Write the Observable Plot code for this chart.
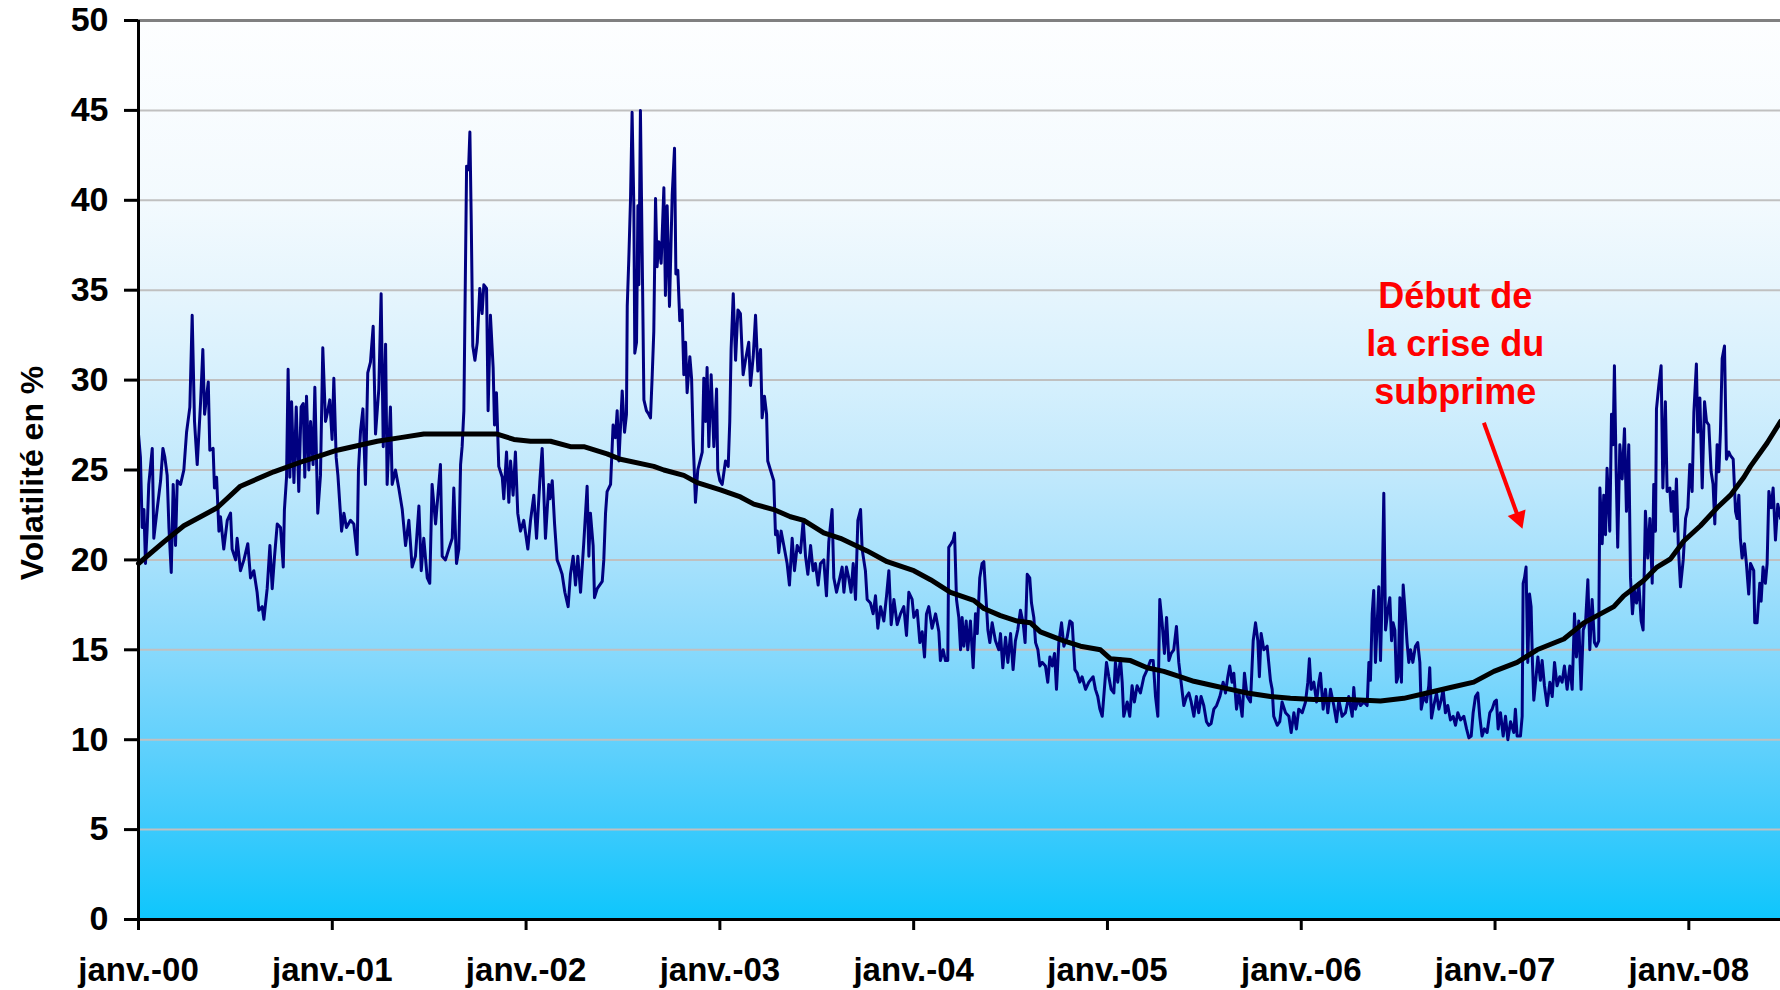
<!DOCTYPE html>
<html lang="fr">
<head>
<meta charset="utf-8">
<script src="https://cdn.jsdelivr.net/npm/d3@7"></script>
<script src="https://cdn.jsdelivr.net/npm/@observablehq/plot@0.6"></script>
<style>
  html, body { margin: 0; padding: 0; background: #ffffff; }
  #chart { width: 1780px; height: 990px; overflow: hidden; }
</style>
</head>
<body>
<div id="chart"></div>
<script>
// ---- Data (decimal year, volatility in %) ----
const volatility = [
[2000.000,27.0],[2000.010,25.7],[2000.019,21.8],[2000.028,22.8],[2000.036,19.8],[2000.045,21.8],[2000.053,24.2],[2000.071,26.2],[2000.079,21.2],[2000.096,22.8],[2000.114,24.4],[2000.126,26.2],[2000.136,25.7],[2000.148,24.7],[2000.157,21.8],[2000.169,19.3],[2000.179,24.2],[2000.191,20.8],[2000.200,24.4],[2000.217,24.2],[2000.234,25.0],[2000.248,27.1],[2000.265,28.5],[2000.277,33.6],[2000.289,27.7],[2000.303,25.3],[2000.320,28.7],[2000.332,31.7],[2000.341,28.1],[2000.360,29.9],[2000.368,26.1],[2000.385,26.2],[2000.392,24.0],[2000.403,24.6],[2000.415,21.6],[2000.423,22.4],[2000.440,20.6],[2000.458,22.2],[2000.475,22.6],[2000.483,20.6],[2000.501,20.0],[2000.509,21.2],[2000.526,19.4],[2000.544,20.0],[2000.564,20.9],[2000.578,19.0],[2000.595,19.4],[2000.612,18.2],[2000.621,17.2],[2000.638,17.4],[2000.647,16.7],[2000.664,18.4],[2000.678,20.8],[2000.690,18.4],[2000.702,20.2],[2000.716,22.0],[2000.733,21.8],[2000.747,19.6],[2000.753,22.8],[2000.764,24.6],[2000.772,30.6],[2000.781,24.6],[2000.790,28.8],[2000.802,24.3],[2000.814,28.5],[2000.827,23.8],[2000.839,28.5],[2000.850,28.7],[2000.858,24.6],[2000.867,29.1],[2000.879,25.0],[2000.888,27.7],[2000.901,25.3],[2000.910,29.6],[2000.925,22.6],[2000.939,24.7],[2000.951,31.8],[2000.965,27.7],[2000.977,28.3],[2000.987,28.9],[2000.999,26.7],
[2001.008,30.1],[2001.020,25.7],[2001.029,24.7],[2001.048,21.6],[2001.060,22.6],[2001.073,21.8],[2001.094,22.2],[2001.111,22.0],[2001.128,20.3],[2001.135,25.0],[2001.146,27.2],[2001.158,28.4],[2001.171,24.2],[2001.183,30.4],[2001.197,31.0],[2001.211,33.0],[2001.223,27.0],[2001.240,29.5],[2001.252,34.8],[2001.263,26.3],[2001.275,32.0],[2001.283,24.2],[2001.300,28.5],[2001.309,24.2],[2001.326,25.0],[2001.343,24.0],[2001.361,22.8],[2001.378,20.8],[2001.395,22.2],[2001.412,19.6],[2001.429,20.2],[2001.447,23.0],[2001.459,19.4],[2001.472,21.2],[2001.490,19.0],[2001.503,18.7],[2001.515,24.2],[2001.533,22.0],[2001.558,25.3],[2001.567,20.2],[2001.584,20.0],[2001.601,20.6],[2001.619,21.2],[2001.627,24.0],[2001.641,19.8],[2001.653,20.6],[2001.662,25.3],[2001.670,26.3],[2001.679,28.3],[2001.693,41.9],[2001.703,41.7],[2001.710,43.8],[2001.717,38.9],[2001.725,31.9],[2001.736,31.1],[2001.748,32.1],[2001.761,35.1],[2001.773,33.7],[2001.782,35.3],[2001.796,35.1],[2001.804,28.3],[2001.816,33.6],[2001.830,30.7],[2001.837,27.5],[2001.847,29.3],[2001.859,25.2],[2001.877,24.6],[2001.885,23.4],[2001.899,26.0],[2001.911,23.2],[2001.920,25.5],[2001.933,23.6],[2001.945,26.0],[2001.957,22.6],[2001.971,21.6],[2001.988,22.2],
[2002.009,20.6],[2002.023,22.2],[2002.040,23.6],[2002.054,21.2],[2002.071,24.4],[2002.083,26.2],[2002.100,21.2],[2002.117,24.2],[2002.123,23.4],[2002.135,24.4],[2002.147,22.0],[2002.160,20.0],[2002.174,19.6],[2002.186,19.2],[2002.200,18.2],[2002.217,17.4],[2002.229,19.2],[2002.243,20.2],[2002.255,18.6],[2002.267,20.2],[2002.281,18.2],[2002.298,21.0],[2002.315,24.1],[2002.324,20.2],[2002.332,22.6],[2002.346,20.8],[2002.353,17.9],[2002.367,18.4],[2002.393,18.8],[2002.401,20.0],[2002.410,22.6],[2002.418,23.8],[2002.436,24.2],[2002.449,27.5],[2002.461,26.8],[2002.470,28.3],[2002.479,25.5],[2002.496,29.4],[2002.508,27.1],[2002.518,28.1],[2002.522,34.1],[2002.530,36.7],[2002.539,40.1],[2002.547,44.9],[2002.556,39.7],[2002.561,31.5],[2002.570,32.1],[2002.577,39.7],[2002.582,35.3],[2002.590,45.0],[2002.599,37.1],[2002.608,28.9],[2002.621,28.3],[2002.633,28.1],[2002.642,27.9],[2002.651,30.3],[2002.659,32.7],[2002.668,40.1],[2002.676,36.3],[2002.685,37.7],[2002.697,36.5],[2002.711,40.7],[2002.719,34.7],[2002.728,39.7],[2002.740,34.1],[2002.754,40.3],[2002.766,42.9],[2002.773,35.9],[2002.783,36.1],[2002.793,33.3],[2002.805,33.9],[2002.814,30.3],[2002.823,32.1],[2002.831,29.3],[2002.845,31.3],[2002.854,30.1],[2002.862,26.7],[2002.874,23.2],[2002.886,25.0],[2002.909,26.0],[2002.917,30.1],[2002.926,27.7],[2002.934,30.7],[2002.943,26.3],[2002.955,30.3],[2002.969,26.3],[2002.983,29.5],[2002.989,25.0],
[2003.000,24.4],[2003.012,24.2],[2003.029,25.5],[2003.043,25.2],[2003.051,27.7],[2003.058,31.7],[2003.069,34.8],[2003.081,31.1],[2003.093,33.9],[2003.106,33.7],[2003.120,30.3],[2003.132,31.1],[2003.149,32.1],[2003.158,29.7],[2003.172,31.3],[2003.184,33.6],[2003.196,30.5],[2003.210,31.7],[2003.218,27.9],[2003.230,29.1],[2003.241,28.1],[2003.247,25.5],[2003.261,25.0],[2003.278,24.4],[2003.287,21.4],[2003.296,21.6],[2003.304,20.4],[2003.316,21.6],[2003.330,20.8],[2003.347,19.8],[2003.359,18.6],[2003.373,21.2],[2003.385,19.4],[2003.399,20.8],[2003.416,20.4],[2003.430,22.2],[2003.442,20.2],[2003.454,19.2],[2003.468,20.8],[2003.481,19.4],[2003.493,19.8],[2003.507,18.6],[2003.519,19.8],[2003.536,20.0],[2003.550,18.0],[2003.562,21.0],[2003.579,22.8],[2003.588,19.0],[2003.602,18.2],[2003.619,19.0],[2003.631,19.6],[2003.640,18.2],[2003.653,19.6],[2003.665,19.0],[2003.677,18.2],[2003.688,19.8],[2003.700,17.8],[2003.712,22.2],[2003.726,22.8],[2003.734,20.6],[2003.751,19.4],[2003.760,17.8],[2003.777,17.6],[2003.791,17.0],[2003.803,18.0],[2003.815,16.2],[2003.829,17.4],[2003.846,16.6],[2003.860,18.0],[2003.872,19.4],[2003.884,16.4],[2003.898,17.8],[2003.915,16.4],[2003.932,17.0],[2003.949,17.4],[2003.963,15.8],[2003.975,18.2],[2003.992,17.8],
[2004.001,16.8],[2004.018,17.2],[2004.032,15.4],[2004.044,16.0],[2004.056,14.6],[2004.066,17.0],[2004.078,17.4],[2004.095,16.2],[2004.113,17.0],[2004.130,16.0],[2004.138,14.4],[2004.152,15.0],[2004.164,14.4],[2004.176,14.4],[2004.181,20.7],[2004.193,20.9],[2004.204,21.1],[2004.211,21.5],[2004.221,17.8],[2004.233,16.8],[2004.242,15.0],[2004.250,16.8],[2004.259,15.2],[2004.271,16.6],[2004.279,15.0],[2004.293,16.6],[2004.307,14.0],[2004.319,17.0],[2004.328,15.9],[2004.341,19.0],[2004.353,19.8],[2004.362,19.9],[2004.371,18.3],[2004.383,16.1],[2004.393,15.4],[2004.405,16.5],[2004.422,15.5],[2004.439,15.0],[2004.448,15.9],[2004.460,14.0],[2004.474,15.7],[2004.486,14.3],[2004.500,15.9],[2004.513,13.9],[2004.525,15.5],[2004.537,16.1],[2004.551,17.2],[2004.565,16.5],[2004.575,15.4],[2004.586,19.2],[2004.599,19.0],[2004.608,17.6],[2004.620,16.8],[2004.629,15.4],[2004.641,15.0],[2004.651,14.1],[2004.663,14.3],[2004.680,14.1],[2004.692,13.2],[2004.703,14.6],[2004.715,14.1],[2004.727,14.8],[2004.737,12.8],[2004.749,15.4],[2004.763,16.5],[2004.775,15.2],[2004.792,15.7],[2004.806,16.6],[2004.818,16.5],[2004.832,13.9],[2004.844,13.7],[2004.857,13.2],[2004.869,13.5],[2004.887,12.8],[2004.904,13.2],[2004.926,13.5],[2004.938,12.8],[2004.950,12.4],[2004.961,11.7],[2004.973,11.3],[2004.981,12.4],[2004.995,14.3],
[2005.007,13.5],[2005.019,12.8],[2005.033,12.6],[2005.041,14.3],[2005.053,13.2],[2005.067,14.5],[2005.076,13.2],[2005.084,11.3],[2005.102,12.1],[2005.115,11.3],[2005.127,13.0],[2005.139,12.1],[2005.153,13.0],[2005.170,12.6],[2005.188,13.5],[2005.205,13.9],[2005.222,14.4],[2005.236,14.4],[2005.248,12.4],[2005.260,11.3],[2005.270,17.8],[2005.282,16.5],[2005.294,14.8],[2005.305,16.8],[2005.317,14.4],[2005.329,14.8],[2005.342,15.0],[2005.356,16.3],[2005.368,14.3],[2005.380,13.2],[2005.394,11.9],[2005.408,12.4],[2005.420,12.6],[2005.432,12.1],[2005.446,11.3],[2005.459,12.4],[2005.471,11.5],[2005.483,12.4],[2005.497,11.9],[2005.511,11.0],[2005.523,10.8],[2005.535,10.9],[2005.549,11.7],[2005.563,11.9],[2005.580,12.4],[2005.597,13.2],[2005.609,12.6],[2005.621,13.5],[2005.631,14.1],[2005.643,13.2],[2005.652,13.7],[2005.666,11.7],[2005.678,12.6],[2005.695,11.3],[2005.707,13.7],[2005.721,12.4],[2005.738,12.1],[2005.752,15.5],[2005.764,16.5],[2005.776,15.5],[2005.784,13.5],[2005.793,15.9],[2005.807,15.0],[2005.824,15.2],[2005.841,13.3],[2005.850,12.8],[2005.858,11.3],[2005.876,10.8],[2005.889,11.0],[2005.901,12.1],[2005.919,11.5],[2005.936,11.3],[2005.948,10.4],[2005.962,11.5],[2005.975,10.6],[2005.987,11.7],
[2006.005,11.5],[2006.022,12.1],[2006.034,13.2],[2006.042,14.5],[2006.051,12.8],[2006.065,13.2],[2006.079,12.1],[2006.091,13.2],[2006.099,13.7],[2006.113,11.7],[2006.125,12.8],[2006.137,11.5],[2006.151,12.8],[2006.168,11.9],[2006.182,11.0],[2006.194,12.2],[2006.211,11.3],[2006.228,11.5],[2006.245,12.4],[2006.263,11.3],[2006.271,12.9],[2006.280,11.7],[2006.292,12.2],[2006.306,11.9],[2006.323,12.1],[2006.340,11.9],[2006.349,14.3],[2006.357,13.3],[2006.366,17.0],[2006.374,18.3],[2006.383,14.3],[2006.392,16.5],[2006.400,18.5],[2006.409,14.4],[2006.417,17.9],[2006.426,23.7],[2006.435,16.1],[2006.447,17.2],[2006.457,17.9],[2006.466,15.5],[2006.474,16.5],[2006.483,16.1],[2006.491,13.2],[2006.500,13.5],[2006.509,17.9],[2006.517,13.2],[2006.526,18.6],[2006.534,17.4],[2006.546,15.4],[2006.555,14.3],[2006.564,15.0],[2006.576,14.3],[2006.589,15.2],[2006.601,15.4],[2006.612,14.3],[2006.619,11.7],[2006.632,12.4],[2006.646,12.1],[2006.658,13.0],[2006.663,14.0],[2006.672,11.2],[2006.684,11.9],[2006.698,12.6],[2006.710,11.7],[2006.722,12.2],[2006.732,12.8],[2006.744,11.5],[2006.756,11.9],[2006.770,11.1],[2006.784,11.3],[2006.796,10.8],[2006.808,11.5],[2006.822,11.1],[2006.839,11.3],[2006.853,10.6],[2006.865,10.1],[2006.877,10.2],[2006.887,11.5],[2006.899,12.4],[2006.911,12.6],[2006.921,11.3],[2006.933,10.2],[2006.945,10.6],[2006.959,10.4],[2006.973,11.5],[2006.985,11.7],[2006.997,12.1],
[2007.007,12.2],[2007.016,10.6],[2007.028,11.5],[2007.042,10.2],[2007.054,11.3],[2007.066,10.0],[2007.080,11.0],[2007.097,10.4],[2007.105,11.7],[2007.114,10.2],[2007.131,10.2],[2007.140,11.3],[2007.145,18.7],[2007.152,19.0],[2007.160,19.6],[2007.169,14.3],[2007.178,18.1],[2007.186,17.4],[2007.193,14.3],[2007.200,12.2],[2007.209,13.2],[2007.221,14.6],[2007.234,13.3],[2007.243,14.4],[2007.255,13.0],[2007.269,11.9],[2007.283,13.2],[2007.295,12.4],[2007.307,14.3],[2007.320,13.0],[2007.334,13.5],[2007.346,13.2],[2007.358,14.1],[2007.372,12.8],[2007.386,14.1],[2007.398,12.8],[2007.410,17.0],[2007.420,14.6],[2007.432,16.6],[2007.444,12.8],[2007.455,16.1],[2007.467,16.5],[2007.479,18.9],[2007.489,15.0],[2007.501,17.8],[2007.513,15.4],[2007.523,15.2],[2007.535,15.5],[2007.541,24.0],[2007.553,20.9],[2007.561,23.6],[2007.570,21.4],[2007.578,25.1],[2007.592,21.6],[2007.601,28.1],[2007.609,26.4],[2007.616,30.8],[2007.625,24.9],[2007.633,20.7],[2007.644,26.4],[2007.656,24.5],[2007.668,27.3],[2007.678,22.7],[2007.690,26.4],[2007.699,19.0],[2007.709,17.0],[2007.719,18.3],[2007.730,17.6],[2007.742,18.7],[2007.754,16.6],[2007.764,16.1],[2007.776,22.7],[2007.788,20.1],[2007.799,22.3],[2007.811,18.7],[2007.819,24.2],[2007.828,21.6],[2007.833,28.4],[2007.845,29.7],[2007.857,30.8],[2007.866,24.0],[2007.879,28.8],[2007.888,23.8],[2007.902,24.0],[2007.909,22.7],[2007.919,23.8],[2007.926,21.6],[2007.936,24.5],[2007.946,20.7],[2007.957,18.5],[2007.971,20.0],[2007.983,22.3],[2007.995,22.9],
[2008.005,25.3],[2008.017,23.8],[2008.026,28.2],[2008.039,30.9],[2008.046,27.1],[2008.057,29.0],[2008.069,24.0],[2008.081,28.8],[2008.091,27.7],[2008.103,27.5],[2008.115,24.9],[2008.125,24.2],[2008.134,22.0],[2008.146,26.4],[2008.155,24.9],[2008.163,27.1],[2008.172,31.2],[2008.184,31.9],[2008.194,25.6],[2008.206,26.0],[2008.215,25.8],[2008.229,25.6],[2008.241,22.7],[2008.249,22.3],[2008.258,23.6],[2008.266,21.2],[2008.275,20.1],[2008.287,20.9],[2008.297,19.8],[2008.309,18.1],[2008.318,19.8],[2008.335,19.4],[2008.340,16.5],[2008.352,16.5],[2008.366,18.7],[2008.373,17.7],[2008.383,19.6],[2008.395,18.7],[2008.404,19.8],[2008.413,23.8],[2008.425,22.9],[2008.435,24.0],[2008.447,21.1],[2008.459,23.1],[2008.473,22.3]
];

const movingAverage = [
[2000.000,19.8],[2000.131,21.0],[2000.234,21.9],[2000.406,22.9],[2000.526,24.1],[2000.698,24.9],[2000.853,25.5],[2001.025,26.1],[2001.232,26.6],[2001.352,26.8],[2001.472,27.0],[2001.851,27.0],[2001.937,26.7],[2002.023,26.6],[2002.126,26.6],[2002.229,26.3],[2002.298,26.3],[2002.418,25.9],[2002.487,25.6],[2002.659,25.2],[2002.711,25.0],[2002.814,24.7],[2002.883,24.3],[2003.003,23.9],[2003.106,23.5],[2003.175,23.1],[2003.278,22.8],[2003.364,22.4],[2003.433,22.2],[2003.536,21.5],[2003.622,21.2],[2003.760,20.5],[2003.863,19.9],[2004.001,19.4],[2004.087,18.9],[2004.190,18.2],[2004.310,17.75],[2004.362,17.3],[2004.448,16.9],[2004.534,16.6],[2004.603,16.5],[2004.654,16.0],[2004.775,15.5],[2004.861,15.2],[2004.964,15.0],[2005.016,14.5],[2005.119,14.4],[2005.205,14.0],[2005.291,13.8],[2005.377,13.5],[2005.446,13.25],[2005.549,13.0],[2005.635,12.8],[2005.721,12.6],[2005.841,12.4],[2005.944,12.3],[2006.065,12.24],[2006.245,12.24],[2006.409,12.15],[2006.529,12.3],[2006.649,12.6],[2006.770,12.9],[2006.890,13.2],[2006.994,13.8],[2007.114,14.3],[2007.217,15.0],[2007.355,15.6],[2007.458,16.5],[2007.613,17.4],[2007.664,18.0],[2007.767,18.85],[2007.836,19.6],[2007.905,20.05],[2007.974,21.05],[2008.060,21.9],[2008.146,22.9],[2008.215,23.6],[2008.284,24.6],[2008.318,25.2],[2008.404,26.5],[2008.473,27.7]
];

const yTicks = [0, 5, 10, 15, 20, 25, 30, 35, 40, 45, 50];
const yGridTicks = [5, 10, 15, 20, 25, 30, 35, 40, 45];
const xTickYears = [2000, 2001, 2002, 2003, 2004, 2005, 2006, 2007, 2008];
const xTickLabels = ["janv.-00", "janv.-01", "janv.-02", "janv.-03", "janv.-04", "janv.-05", "janv.-06", "janv.-07", "janv.-08"];
const xDomain = [2000, 2008.473];
const yDomain = [0, 50];
const yLabel = "Volatilité en %";
const annotationLines = ["Début de", "la crise du", "subprime"];
const annotationAt = {t: 2006.795, v: 35.9};
const arrowFrom = {t: 2006.945, v: 27.6};
const arrowTo = {t: 2007.144, v: 21.7};

// ---- Build ----
const volData = volatility.map(([t, v]) => ({t, v}));
const maData = movingAverage.map(([t, v]) => ({t, v}));
const labelByYear = new Map(xTickYears.map((y, i) => [y, xTickLabels[i]]));

function background(index, scales, values, dims) {
  const g = d3.create("svg:g");
  const grad = g.append("defs").append("linearGradient")
    .attr("id", "bgGrad").attr("x1", 0).attr("y1", 0).attr("x2", 0).attr("y2", 1);
  const stops = [[0, "#fdfeff"], [0.2, "#f3fafe"], [0.3, "#e6f5fd"], [0.4, "#d6f0fd"], [0.5, "#c2e9fc"],
                 [0.6, "#a7e1fc"], [0.7, "#88d9fc"], [0.8, "#63d1fc"], [0.9, "#3bcafc"], [1, "#0ec6fc"]];
  for (const [o, c] of stops) grad.append("stop").attr("offset", o).attr("stop-color", c);
  g.append("rect")
    .attr("x", dims.marginLeft).attr("y", dims.marginTop)
    .attr("width", dims.width - dims.marginLeft - dims.marginRight)
    .attr("height", dims.height - dims.marginTop - dims.marginBottom)
    .attr("fill", "url(#bgGrad)");
  return g.node();
}

function arrowMark(index, scales) {
  const x1 = scales.x(arrowFrom.t), y1 = scales.y(arrowFrom.v);
  const x2 = scales.x(arrowTo.t), y2 = scales.y(arrowTo.v);
  const a = Math.atan2(y2 - y1, x2 - x1);
  const L = 17, W = 9.5;
  const bx = x2 - L * Math.cos(a), by = y2 - L * Math.sin(a);
  const px = -Math.sin(a) * W, py = Math.cos(a) * W;
  const g = d3.create("svg:g");
  g.append("line").attr("x1", x1).attr("y1", y1).attr("x2", bx + Math.cos(a)).attr("y2", by + Math.sin(a))
    .attr("stroke", "#ff0000").attr("stroke-width", 4);
  g.append("path").attr("d", `M${x2},${y2}L${bx + px},${by + py}L${bx - px},${by - py}Z`).attr("fill", "#ff0000");
  return g.node();
}

const font = "'Liberation Sans', Arial, sans-serif";

const chart = Plot.plot({
  width: 1780,
  height: 990,
  marginLeft: 138,
  marginRight: 0,
  marginTop: 20,
  marginBottom: 71,
  style: {fontFamily: font, background: "#ffffff", overflow: "visible"},
  x: {type: "linear", domain: xDomain, label: null},
  y: {type: "linear", domain: yDomain, label: null},
  marks: [
    background,
    Plot.gridY(yGridTicks, {stroke: "#c0c0c0", strokeOpacity: 1, strokeWidth: 2}),
    Plot.ruleY([yDomain[1]], {stroke: "#808080", strokeWidth: 3}),
    Plot.line(volData, {x: "t", y: "v", stroke: "#000080", strokeWidth: 3, strokeLinejoin: "round"}),
    Plot.line(maData, {x: "t", y: "v", stroke: "#000000", strokeWidth: 5, strokeLinejoin: "round", curve: "linear"}),
    Plot.ruleX([xDomain[0]], {stroke: "#000000", strokeWidth: 3}),
    Plot.ruleY([0], {stroke: "#000000", strokeWidth: 3}),
    Plot.axisY({ticks: yTicks, tickSize: 14, tickPadding: 16, strokeWidth: 3, color: "#000000",
                fontSize: 34, fontWeight: "bold", fontFamily: font, label: null}),
    Plot.axisX({ticks: xTickYears, tickFormat: d => labelByYear.get(d), tickSize: 11, tickPadding: 27,
                strokeWidth: 3, color: "#000000", fontSize: 33, fontWeight: "bold", fontFamily: font, label: null}),
    Plot.text([yLabel], {frameAnchor: "left", textAnchor: "middle", rotate: -90, dx: -106, dy: 3, fontSize: 32,
                         fontWeight: "bold", fontFamily: font, fill: "#000000"}),
    Plot.text([{t: annotationAt.t, v: annotationAt.v, label: annotationLines.join("\n")}],
              {x: "t", y: "v", text: "label", lineAnchor: "top", textAnchor: "middle", lineHeight: 1.33,
               fontSize: 36, fontWeight: "bold", fontFamily: font, fill: "#ff0000"}),
    arrowMark
  ]
});

document.getElementById("chart").appendChild(chart);
</script>
</body>
</html>
